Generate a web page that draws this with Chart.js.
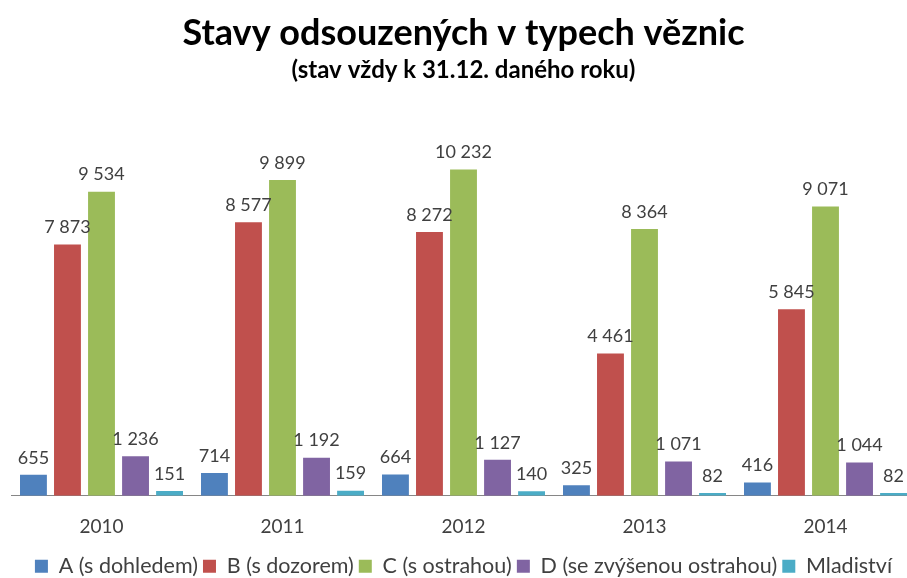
<!DOCTYPE html>
<html>
<head>
<meta charset="utf-8">
<script src="https://cdn.jsdelivr.net/npm/chart.js@4"></script>
<style>
  html, body { margin:0; padding:0; background:#fff; overflow:hidden; }
  #wrap { position:relative; width:925px; height:578px; }
</style>
</head>
<body>
<div id="wrap"><canvas id="graf"></canvas></div>
<script>
// ---------- DATA ----------
const roky = ['2010', '2011', '2012', '2013', '2014'];
const nazvySerii = ['A (s dohledem)', 'B (s dozorem)', 'C (s ostrahou)', 'D (se zvýšenou ostrahou)', 'Mladiství'];
const typA = [655, 714, 664, 325, 416];
const typB = [7873, 8577, 8272, 4461, 5845];
const typC = [9534, 9899, 10232, 8364, 9071];
const typD = [1236, 1192, 1127, 1071, 1044];
const mladistvi = [151, 159, 140, 82, 82];
const barvy = ['#4F81BD', '#C0504D', '#9BBB59', '#8064A2', '#4BACC6'];

const FONT = "Lato, 'Open Sans', sans-serif";
const INK = '#404040';

function cislo(n){
  return String(n).replace(/\B(?=(\d{3})+(?!\d))/g, ' ');
}

// popisky nad sloupci
const popiskyPlugin = {
  id: 'popisky',
  afterDatasetsDraw(chart){
    const ctx = chart.ctx;
    ctx.save();
    ctx.font = '18px ' + FONT;
    ctx.fillStyle = INK;
    ctx.textAlign = 'center';
    ctx.textBaseline = 'bottom';
    chart.data.datasets.forEach((ds, i) => {
      chart.getDatasetMeta(i).data.forEach((bar, j) => {
        ctx.fillText(cislo(ds.data[j]), bar.x, bar.y - 8);
      });
    });
    ctx.restore();
  }
};

const serie = [typA, typB, typC, typD, mladistvi];

new Chart(document.getElementById('graf').getContext('2d'), {
  type: 'bar',
  data: {
    labels: roky,
    datasets: serie.map((d, i) => ({
      label: nazvySerii[i],
      data: d,
      backgroundColor: barvy[i],
      categoryPercentage: 0.94,
      barPercentage: 0.79
    }))
  },
  options: {
    responsive: true,
    maintainAspectRatio: false,
    animation: false,
    layout: { padding: { left: 11, right: 9, top: 0, bottom: -9 } },
    plugins: {
      title: {
        display: true,
        text: 'Stavy odsouzených v typech věznic',
        color: '#000',
        font: { family: FONT, size: 36, weight: 'bold' },
        padding: { top: 12, bottom: 1 }
      },
      subtitle: {
        display: true,
        text: '(stav vždy k 31.12. daného roku)',
        color: '#000',
        font: { family: FONT, size: 24, weight: 'bold' },
        padding: { bottom: 28 }
      },
      legend: {
        position: 'bottom',
        labels: {
          color: INK,
          font: { family: FONT, size: 21.5 },
          boxWidth: 13, boxHeight: 13, padding: 5
        }
      },
      tooltip: { enabled: false }
    },
    scales: {
      x: {
        grid: { display: false },
        border: { color: '#868686' },
        ticks: { color: INK, font: { family: FONT, size: 19 }, padding: 12 }
      },
      y: {
        display: false,
        min: 0, max: 12000
      }
    }
  },
  plugins: [popiskyPlugin]
});
</script>
</body>
</html>
